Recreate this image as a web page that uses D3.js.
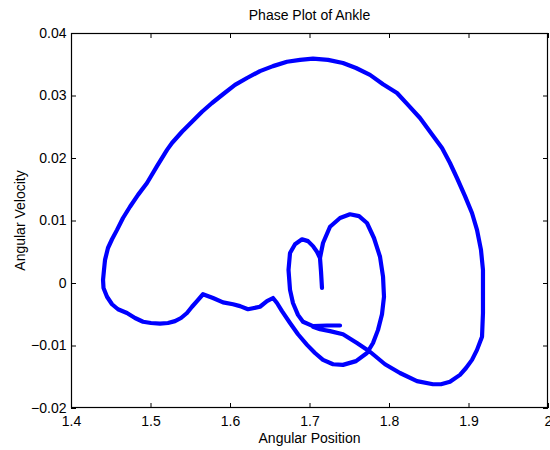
<!DOCTYPE html>
<html lang="en">
<head>
    <meta charset="UTF-8">
    <title>Phase Plot of Ankle</title>
    <style>
        body {
            margin: 0;
            background: #fff;
        }

        text {
            font-family: "Liberation Sans", Arial, sans-serif;
            font-size: 14px;
            fill: #000;
        }
    </style>
    <script src="https://cdn.jsdelivr.net/npm/d3@7"></script>
</head>
<body>
<svg class="chart"></svg>
<script>
    // one gait cycle
    const angularPosition = [
        1.7384, 1.7220, 1.7044, 1.6918, 1.6855, 1.6792, 1.6755, 1.6736, 1.6755, 1.6818,
        1.6906, 1.6981, 1.7044, 1.7094, 1.7132, 1.7145, 1.7157, 1.7145, 1.7132, 1.7170,
        1.7258, 1.7384, 1.7509, 1.7623, 1.7723, 1.7811, 1.7887, 1.7925, 1.7937, 1.7912,
        1.7862, 1.7799, 1.7723, 1.7585, 1.7421, 1.7296, 1.7170, 1.7069, 1.6969, 1.6855,
        1.6755, 1.6654, 1.6591, 1.6541, 1.6465, 1.6377, 1.6226, 1.6126, 1.6038, 1.5912,
        1.5786, 1.5660, 1.5585, 1.5522, 1.5459, 1.5384, 1.5308, 1.5220, 1.5119, 1.5006,
        1.4906, 1.4805, 1.4704, 1.4591, 1.4516, 1.4453, 1.4409, 1.4403, 1.4415, 1.4428,
        1.4465, 1.4516, 1.4579, 1.4654, 1.4742, 1.4843, 1.4956, 1.5082, 1.5208, 1.5270,
        1.5396, 1.5522, 1.5648, 1.5774, 1.5912, 1.6063, 1.6214, 1.6377, 1.6541, 1.6717,
        1.6881, 1.7044, 1.7233, 1.7421, 1.7585, 1.7761, 1.7925, 1.8101, 1.8239, 1.8390,
        1.8528, 1.8667, 1.8767, 1.8855, 1.8956, 1.9044, 1.9107, 1.9157, 1.9182, 1.9182,
        1.9182, 1.9170, 1.9107, 1.9044, 1.8969, 1.8893, 1.8767, 1.8654, 1.8553, 1.8352,
        1.8138, 1.7950, 1.7761, 1.7597, 1.7421, 1.7258, 1.7132, 1.7044
    ];
    const angularVelocity = [
        -0.0068, -0.0068, -0.0069, -0.0062, -0.0051, -0.0032, -0.0011, 0.0021, 0.0048, 0.0062,
        0.0070, 0.0067, 0.0059, 0.0050, 0.0040, 0.0018, -0.0008, 0.0018, 0.0040, 0.0064,
        0.0090, 0.0104, 0.0110, 0.0107, 0.0096, 0.0072, 0.0042, 0.0010, -0.0022, -0.0050,
        -0.0075, -0.0096, -0.0112, -0.0125, -0.0131, -0.0130, -0.0123, -0.0112, -0.0099, -0.0082,
        -0.0064, -0.0045, -0.0032, -0.0024, -0.0029, -0.0038, -0.0042, -0.0037, -0.0034, -0.0031,
        -0.0024, -0.0018, -0.0029, -0.0038, -0.0048, -0.0056, -0.0061, -0.0064, -0.0065, -0.0064,
        -0.0062, -0.0056, -0.0048, -0.0042, -0.0034, -0.0022, -0.0008, 0.0005, 0.0021, 0.0037,
        0.0056, 0.0070, 0.0085, 0.0104, 0.0122, 0.0141, 0.0160, 0.0187, 0.0213, 0.0224,
        0.0242, 0.0258, 0.0274, 0.0288, 0.0302, 0.0317, 0.0328, 0.0339, 0.0347, 0.0354,
        0.0357, 0.0359, 0.0357, 0.0352, 0.0344, 0.0333, 0.0318, 0.0304, 0.0285, 0.0264,
        0.0240, 0.0216, 0.0192, 0.0168, 0.0139, 0.0112, 0.0085, 0.0053, 0.0021, -0.0011,
        -0.0048, -0.0086, -0.0107, -0.0123, -0.0136, -0.0147, -0.0158, -0.0162, -0.0162, -0.0157,
        -0.0144, -0.0130, -0.0110, -0.0096, -0.0082, -0.0077, -0.0074, -0.0070
    ];
    const xTicks = [1.4, 1.5, 1.6, 1.7, 1.8, 1.9, 2];
    const yTicks = [-0.02, -0.01, 0, 0.01, 0.02, 0.03, 0.04];

    const width = 550,
        height = 450,
        margin = {top: 33, right: 2, bottom: 42, left: 71},
        plotW = width - margin.left - margin.right,
        plotH = height - margin.top - margin.bottom;

    let x = d3.scaleLinear().domain([1.4, 2]).range([0, plotW]),
        y = d3.scaleLinear().domain([-0.02, 0.04]).range([plotH, 0]);

    const svg = d3.select('.chart')
        .attr('width', width)
        .attr('height', height);

    const g = svg.append('g')
        .attr('transform', 'translate(' + margin.left + ',' + margin.top + ')');

    /**
     * curve
     */
    const points = angularPosition.map((p, i) => [p, angularVelocity[i]]);
    g.append('path')
        .datum(points)
        .attr('fill', 'none')
        .attr('stroke', '#0000ff')
        .attr('stroke-width', 4.2)
        .attr('stroke-linejoin', 'round')
        .attr('stroke-linecap', 'round')
        .attr('d', d3.line().x(d => x(d[0])).y(d => y(d[1])));

    /**
     * axes, ticks pointing inward like matlab
     */
    const fmtY = d => d === 0 ? '0' : d3.format('.2f')(d);
    let axes = [
        {axis: d3.axisBottom(x).tickValues(xTicks).tickFormat(d => String(d)), t: [0, plotH], pad: 8},
        {axis: d3.axisTop(x).tickValues(xTicks).tickFormat(''), t: [0, 0], pad: 6},
        {axis: d3.axisLeft(y).tickValues(yTicks).tickFormat(fmtY), t: [0, 0], pad: 4.5},
        {axis: d3.axisRight(y).tickValues(yTicks).tickFormat(''), t: [plotW, 0], pad: 6}
    ];
    axes.forEach(a => {
        const ag = g.append('g')
            .attr('transform', 'translate(' + a.t[0] + ',' + a.t[1] + ')')
            .call(a.axis.tickSizeInner(-5).tickSizeOuter(0).tickPadding(a.pad));
        ag.select('.domain').remove();
        ag.selectAll('line').attr('stroke', '#000');
        ag.selectAll('text')
            .style('font-family', '"Liberation Sans", Arial, sans-serif')
            .style('font-size', '14px')
            .attr('fill', '#000');
    });

    g.append('rect')
        .attr('x', 0.5)
        .attr('y', 0.5)
        .attr('width', plotW - 1)
        .attr('height', plotH - 1)
        .attr('fill', 'none')
        .attr('stroke', '#000')
        .attr('stroke-width', 1.2);

    /**
     * labels
     */
    svg.append('text')
        .attr('x', margin.left + plotW / 2)
        .attr('y', 19.5)
        .attr('text-anchor', 'middle')
        .text('Phase Plot of Ankle');

    svg.append('text')
        .attr('x', margin.left + plotW / 2)
        .attr('y', 443)
        .attr('text-anchor', 'middle')
        .text('Angular Position');

    svg.append('text')
        .attr('transform', 'translate(24.5,' + (margin.top + plotH / 2) + ') rotate(-90)')
        .attr('text-anchor', 'middle')
        .text('Angular Velocity');
</script>
</body>
</html>
